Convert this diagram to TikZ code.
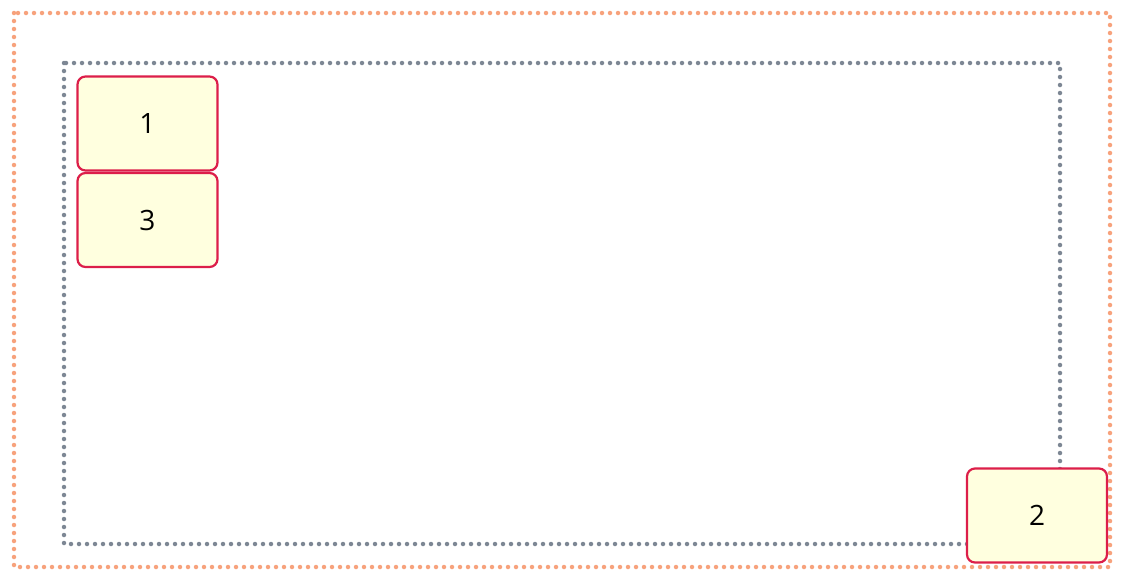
\documentclass[tikz,border=0pt]{standalone}
\usepackage{fontspec}
\setmainfont{Open Sans}
\definecolor{frameorange}{HTML}{F7A27C}
\definecolor{framegray}{HTML}{7D8794}
\definecolor{boxred}{HTML}{DC1E4A}
\definecolor{boxfill}{HTML}{FFFFDF}
\tikzset{
  frameline/.style={line width=4.5pt, line cap=round, dash pattern=on 0pt off 8pt},
  item/.style={draw=boxred, fill=boxfill, line width=2.2pt, rounded corners=8pt,
    minimum width=140pt, minimum height=94pt, inner sep=0pt,
    font=\fontsize{28}{32}\selectfont},
}
\begin{document}
\begin{tikzpicture}[x=1pt, y=-1pt]
  \useasboundingbox (0,0) rectangle (1124,582);

  \draw[frameline, frameorange] (14,13) rectangle (1110,567);
  \draw[frameline, framegray] (64,63) rectangle (1060,544);

  \node[item] (box1) at (147.5,123.5) {1};
  \node[item] (box3) at (147.5,220) {3};
  \node[item] (box2) at (1037,515.5) {2};
\end{tikzpicture}
\end{document}
